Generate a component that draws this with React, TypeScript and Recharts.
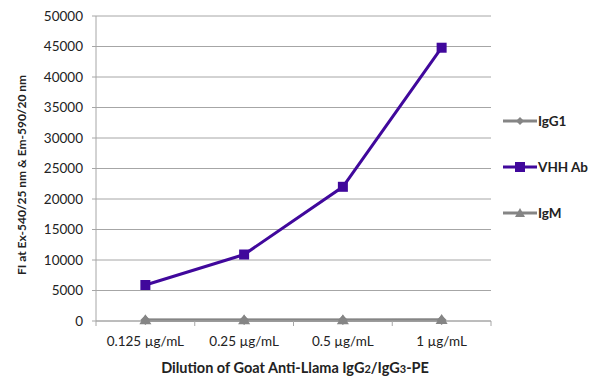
import React from 'react';
import { LineChart, Line, XAxis, YAxis, CartesianGrid } from 'recharts';

const categories = ['0.125 µg/mL', '0.25 µg/mL', '0.5 µg/mL', '1 µg/mL'];
const igg1 = [150, 150, 150, 180];
const vhhAb = [5900, 10900, 22000, 44800];
const igm = [120, 120, 120, 150];
const yTicks = [0, 5000, 10000, 15000, 20000, 25000, 30000, 35000, 40000, 45000, 50000];

const data = categories.map((name, i) => ({
  name,
  igg1: igg1[i],
  vhh: vhhAb[i],
  igm: igm[i],
}));

const FONT = 'Lato, "Open Sans", sans-serif';
const GRID = '#a6a6a6';
const GRAY = '#858585';
const PURPLE = '#40089c';

const W = 600;
const H = 391;
const X_AXIS_H = 70;
const M = { top: 16, right: 109, bottom: 0, left: 0 };
const Y_AXIS_W = 96;
const bandW = (W - M.left - M.right - Y_AXIS_W) / categories.length;

const XTick = (props: any) => {
  const { x, y, payload, index } = props;
  const left = x - bandW / 2;
  return (
    <g>
      <line x1={left} y1={y} x2={left} y2={y + 5} stroke={GRID} />
      {index === categories.length - 1 && (
        <line x1={x + bandW / 2} y1={y} x2={x + bandW / 2} y2={y + 5} stroke={GRID} />
      )}
      <text x={x} y={y + 25} textAnchor="middle" fontSize={13.5} fill="#222" fontFamily={FONT}>
        {payload.value}
      </text>
    </g>
  );
};

const Diamond = (props: any) => {
  const { cx, cy } = props;
  if (cx == null || cy == null) return null;
  return <path d={`M${cx},${cy - 5} L${cx + 5},${cy} L${cx},${cy + 5} L${cx - 5},${cy} Z`} fill={GRAY} />;
};

const Square = (props: any) => {
  const { cx, cy } = props;
  if (cx == null || cy == null) return null;
  return <rect x={cx - 5} y={cy - 5} width={10} height={10} fill={PURPLE} />;
};

const Triangle = (props: any) => {
  const { cx, cy } = props;
  if (cx == null || cy == null) return null;
  return <path d={`M${cx},${cy - 6} L${cx + 6},${cy + 4} L${cx - 6},${cy + 4} Z`} fill={GRAY} />;
};

const legendItems = [
  { label: 'IgG1', color: GRAY, marker: 'diamond' },
  { label: 'VHH Ab', color: PURPLE, marker: 'square' },
  { label: 'IgM', color: GRAY, marker: 'triangle' },
];

const LegendBox = () => (
  <svg width={100} height={110} style={{ position: 'absolute', left: 502, top: 113 }}>
    {legendItems.map((item, i) => {
      const cy = 8 + i * 46;
      const cx = 18;
      let marker;
      if (item.marker === 'diamond') {
        marker = <path d={`M${cx},${cy - 4} L${cx + 4},${cy} L${cx},${cy + 4} L${cx - 4},${cy} Z`} fill={item.color} />;
      } else if (item.marker === 'square') {
        marker = <rect x={cx - 5} y={cy - 5} width={10} height={10} fill={item.color} />;
      } else {
        marker = <path d={`M${cx},${cy - 5} L${cx + 5},${cy + 4} L${cx - 5},${cy + 4} Z`} fill={item.color} />;
      }
      return (
        <g key={item.label}>
          <line x1={1} y1={cy} x2={35} y2={cy} stroke={item.color} strokeWidth={3} />
          {marker}
          <text x={36} y={cy + 5} fontSize={13.5} fontWeight="bold" fill="#222" fontFamily={FONT}>
            {item.label}
          </text>
        </g>
      );
    })}
  </svg>
);

const App: React.FC = () => {
  return (
    <div style={{ position: 'absolute', left: 0, top: 0, width: W, height: H, background: '#fff' }}>
      <LineChart width={W} height={H} data={data} margin={M}>
        <CartesianGrid vertical={false} stroke={GRID} strokeWidth={1} />
        <XAxis
          dataKey="name"
          scale="band"
          stroke={GRID}
          tickLine={false}
          tickSize={0}
          tickMargin={0}
          tick={<XTick />}
          interval={0}
          height={X_AXIS_H}
        />
        <YAxis
          width={Y_AXIS_W}
          domain={[0, 50000]}
          ticks={yTicks}
          interval={0}
          stroke={GRID}
          tickSize={4}
          tickMargin={9}
          tick={{ fontSize: 13.5, fill: '#222', fontFamily: FONT }}
        />
        <Line
          dataKey="igg1"
          stroke={GRAY}
          strokeWidth={3}
          dot={<Diamond />}
          activeDot={false}
          isAnimationActive={false}
        />
        <Line
          dataKey="igm"
          stroke={GRAY}
          strokeWidth={3}
          dot={<Triangle />}
          activeDot={false}
          isAnimationActive={false}
        />
        <Line
          dataKey="vhh"
          stroke={PURPLE}
          strokeWidth={3}
          dot={<Square />}
          activeDot={false}
          isAnimationActive={false}
        />
        <text
          transform="translate(26, 175) rotate(-90)"
          textAnchor="middle"
          fontSize={12}
          fontWeight="bold"
          fill="#222"
          fontFamily={FONT}
        >
          FI at Ex-540/25 nm &amp; Em-590/20 nm
        </text>
        <text x={295} y={373} textAnchor="middle" fontSize={14.5} fontWeight="bold" fill="#222" fontFamily={FONT}>
          Dilution of Goat Anti-Llama IgG<tspan fontSize={11}>2</tspan>/IgG<tspan fontSize={11}>3</tspan>-PE
        </text>
      </LineChart>
      <LegendBox />
    </div>
  );
};

export default App;
